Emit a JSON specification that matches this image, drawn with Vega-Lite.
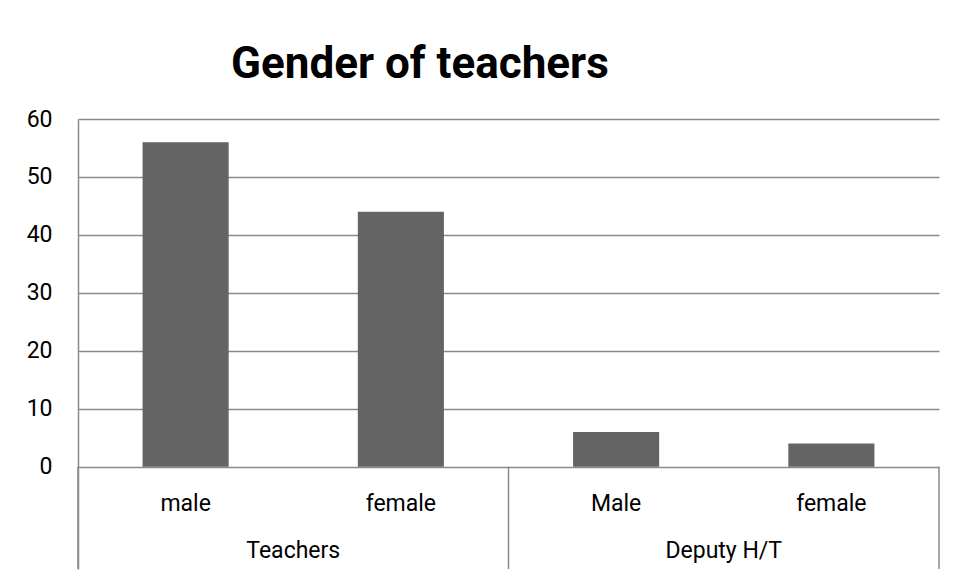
{
  "$schema": "https://vega.github.io/schema/vega-lite/v6.json",
  "autosize": {"type": "none"},
  "padding": {"left": 78, "top": 119, "right": 18, "bottom": 9},
  "width": 861,
  "height": 450,
  "background": "white",
  "title": {
    "text": "Gender of teachers",
    "anchor": "start",
    "frame": "group",
    "dx": 153,
    "offset": 21,
    "font": "Roboto",
    "fontSize": 44,
    "fontWeight": "bold",
    "color": "black"
  },
  "config": {
    "view": {"stroke": null},
    "font": "Roboto"
  },
  "data": {
    "values": [
      {"group": "Teachers", "gender": "male", "key": "Teachers|male", "value": 56},
      {"group": "Teachers", "gender": "female", "key": "Teachers|female", "value": 44},
      {"group": "Deputy H/T", "gender": "Male", "key": "Deputy H/T|Male", "value": 6},
      {"group": "Deputy H/T", "gender": "female", "key": "Deputy H/T|female", "value": 4}
    ]
  },
  "encoding": {
    "x": {
      "field": "key",
      "type": "nominal",
      "sort": null,
      "scale": {"paddingInner": 0, "paddingOuter": 0},
      "axis": {
        "title": null,
        "orient": "bottom",
        "offset": -66,
        "domain": false,
        "ticks": false,
        "tickSize": 0,
        "labelPadding": 0,
        "labelBaseline": "middle",
        "labelAngle": 0,
        "labelFontSize": 23,
        "labelColor": "black",
        "labelFont": "Roboto",
        "labelExpr": "split(datum.value, '|')[1]"
      }
    }
  },
  "layer": [
    {
      "mark": {"type": "bar", "color": "#646464", "width": {"band": 0.4}},
      "encoding": {
        "y": {
          "field": "value",
          "type": "quantitative",
          "scale": {"domain": [-17.65, 60], "nice": false, "zero": false},
          "axis": {
            "title": null,
            "values": [0, 10, 20, 30, 40, 50, 60],
            "grid": true,
            "gridColor": "#8a8a8a",
            "gridWidth": 1.5,
            "domain": true,
            "domainColor": "#8a8a8a",
            "domainWidth": 1.5,
            "ticks": false,
            "labelPadding": 26,
            "labelFontSize": 23,
            "labelColor": "black",
            "labelFont": "Roboto"
          }
        },
        "y2": {"datum": 0}
      }
    },
    {
      "transform": [{"filter": "datum.gender == 'male' || datum.gender == 'Male'"}],
      "mark": {"type": "rule", "color": "#8a8a8a", "strokeWidth": 1.5},
      "encoding": {
        "x": {"field": "key", "type": "nominal", "sort": null, "bandPosition": 0},
        "y": {"datum": 0},
        "y2": {"datum": -17.65}
      }
    },
    {
      "transform": [{"filter": "datum.key == 'Deputy H/T|female'"}],
      "mark": {"type": "rule", "color": "#8a8a8a", "strokeWidth": 1.5},
      "encoding": {
        "x": {"field": "key", "type": "nominal", "sort": null, "bandPosition": 1},
        "y": {"datum": 0},
        "y2": {"datum": -17.65}
      }
    },
    {
      "transform": [{"filter": "datum.gender == 'female'"}],
      "mark": {"type": "text", "fontSize": 23, "font": "Roboto", "color": "black", "baseline": "middle", "align": "center"},
      "encoding": {
        "x": {"field": "key", "type": "nominal", "sort": null, "bandPosition": 0},
        "y": {"datum": -14.5},
        "text": {"field": "group"}
      }
    }
  ]
}
